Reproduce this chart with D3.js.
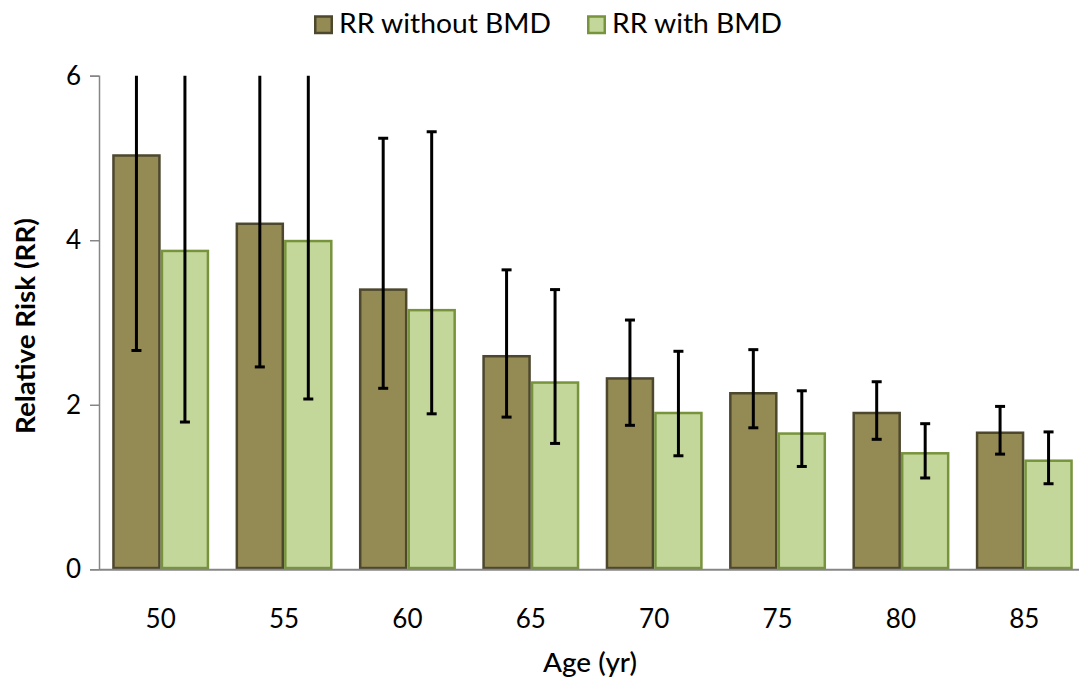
<!DOCTYPE html>
<html>
<head>
<meta charset="utf-8">
<script src="https://cdn.jsdelivr.net/npm/d3@7/dist/d3.min.js"></script>
<style>
  html, body { margin: 0; padding: 0; background: #fff; }
  svg { display: block; font-family: Lato, "Open Sans", sans-serif; }
</style>
</head>
<body>
<svg id="chart" width="1079" height="682"></svg>
<script>
// ---- data ----
const ages = ["50", "55", "60", "65", "70", "75", "80", "85"];
const seriesNames = ["RR without BMD", "RR with BMD"];
const rrWithout = [5.03, 4.20, 3.40, 2.59, 2.32, 2.14, 1.90, 1.66];
const rrWithoutLow = [2.66, 2.46, 2.20, 1.85, 1.75, 1.72, 1.58, 1.40];
const rrWithoutHigh = [9.5, 7.2, 5.24, 3.64, 3.03, 2.67, 2.28, 1.98];
const rrWith = [3.87, 3.99, 3.15, 2.27, 1.90, 1.65, 1.41, 1.32];
const rrWithLow = [1.79, 2.07, 1.89, 1.53, 1.38, 1.25, 1.11, 1.04];
const rrWithHigh = [8.4, 7.7, 5.32, 3.40, 2.65, 2.17, 1.77, 1.67];
const yTicks = [0, 2, 4, 6];

// ---- layout ----
const svg = d3.select("#chart");
const mLeft = 99, mRight = 1086, mTop = 75.7, mBottom = 569.3;

const x = d3.scaleBand().domain(ages).range([mLeft, mRight])
  .paddingInner(0.214).paddingOuter(0.107);
const x1 = d3.scaleBand().domain(seriesNames).range([0, x.bandwidth()]).padding(0);
const y = d3.scaleLinear().domain([0, 6]).range([mBottom, mTop]);

const fills = ["#948A54", "#C4D79B"];
const strokes = ["#4D472E", "#77933C"];

const rows = ages.map((a, i) => ({
  age: a,
  vals: [
    { s: seriesNames[0], k: 0, v: rrWithout[i], lo: rrWithoutLow[i], hi: rrWithoutHigh[i] },
    { s: seriesNames[1], k: 1, v: rrWith[i], lo: rrWithLow[i], hi: rrWithHigh[i] }
  ]
}));

svg.append("defs").append("clipPath").attr("id", "plotclip")
  .append("rect").attr("x", mLeft - 5).attr("y", mTop).attr("width", mRight - mLeft + 10).attr("height", mBottom - mTop + 5);

// y axis
const yAxis = d3.axisLeft(y).tickValues(yTicks).tickSize(9).tickPadding(9).tickFormat(d3.format("d"));
const gy = svg.append("g").attr("transform", `translate(${mLeft},0)`).call(yAxis);
gy.select(".domain").attr("stroke", "#868686").attr("stroke-width", 1.5);
gy.selectAll(".tick line").attr("stroke", "#868686").attr("stroke-width", 1.5);
gy.selectAll(".tick text").attr("font-size", 26).attr("fill", "#000")
  .style("font-family", "Lato, sans-serif");

// bars
const groups = svg.append("g").selectAll("g").data(rows).join("g")
  .attr("transform", d => `translate(${x(d.age)},0)`);
groups.selectAll("rect").data(d => d.vals).join("rect")
  .attr("x", d => x1(d.s) + 1.25)
  .attr("width", x1.bandwidth() - 2.5)
  .attr("y", d => y(d.v))
  .attr("height", d => y(0) - y(d.v) - 1.25)
  .attr("fill", d => fills[d.k])
  .attr("stroke", d => strokes[d.k])
  .attr("stroke-width", 2.5);

// x axis line
const xAxis = d3.axisBottom(x).tickSize(0).tickPadding(40);
const gx = svg.append("g").attr("transform", `translate(0,${mBottom})`).call(xAxis);
gx.select(".domain").attr("stroke", "#868686").attr("stroke-width", 2);
gx.selectAll(".tick text").attr("font-size", 26).attr("fill", "#000")
  .style("font-family", "Lato, sans-serif");

// error bars
const eb = svg.append("g").attr("clip-path", "url(#plotclip)");
rows.forEach(r => {
  r.vals.forEach(d => {
    const cx = x(r.age) + x1(d.s) + x1.bandwidth() / 2;
    eb.append("line").attr("x1", cx).attr("x2", cx).attr("y1", y(d.lo)).attr("y2", y(d.hi))
      .attr("stroke", "#000").attr("stroke-width", 3);
    [d.lo, d.hi].forEach(v => {
      if (v <= 6) {
        eb.append("line").attr("x1", cx - 5).attr("x2", cx + 5).attr("y1", y(v)).attr("y2", y(v))
          .attr("stroke", "#000").attr("stroke-width", 3);
      }
    });
  });
});

// axis titles
svg.append("text").attr("x", 590).attr("y", 672).attr("text-anchor", "middle")
  .attr("font-size", 27).attr("font-weight", 500).attr("fill", "#000")
  .attr("textLength", 94).attr("lengthAdjust", "spacingAndGlyphs")
  .text("Age (yr)");
svg.append("text").attr("transform", "translate(35,326) rotate(-90)").attr("text-anchor", "middle")
  .attr("font-size", 27).attr("font-weight", 700).attr("fill", "#000")
  .attr("textLength", 216).attr("lengthAdjust", "spacingAndGlyphs")
  .text("Relative Risk (RR)");

// legend
const legendX = [314, 587];
const legendW = [212, 170];
seriesNames.forEach((n, k) => {
  svg.append("rect").attr("x", legendX[k] + 1.25).attr("y", 16.5).attr("width", 16.5).attr("height", 16.5)
    .attr("fill", fills[k]).attr("stroke", strokes[k]).attr("stroke-width", 2.5);
  svg.append("text").attr("x", legendX[k] + 25).attr("y", 33).attr("font-size", 26).attr("fill", "#000")
    .attr("textLength", legendW[k]).attr("lengthAdjust", "spacingAndGlyphs")
    .text(n);
});
</script>
</body>
</html>
